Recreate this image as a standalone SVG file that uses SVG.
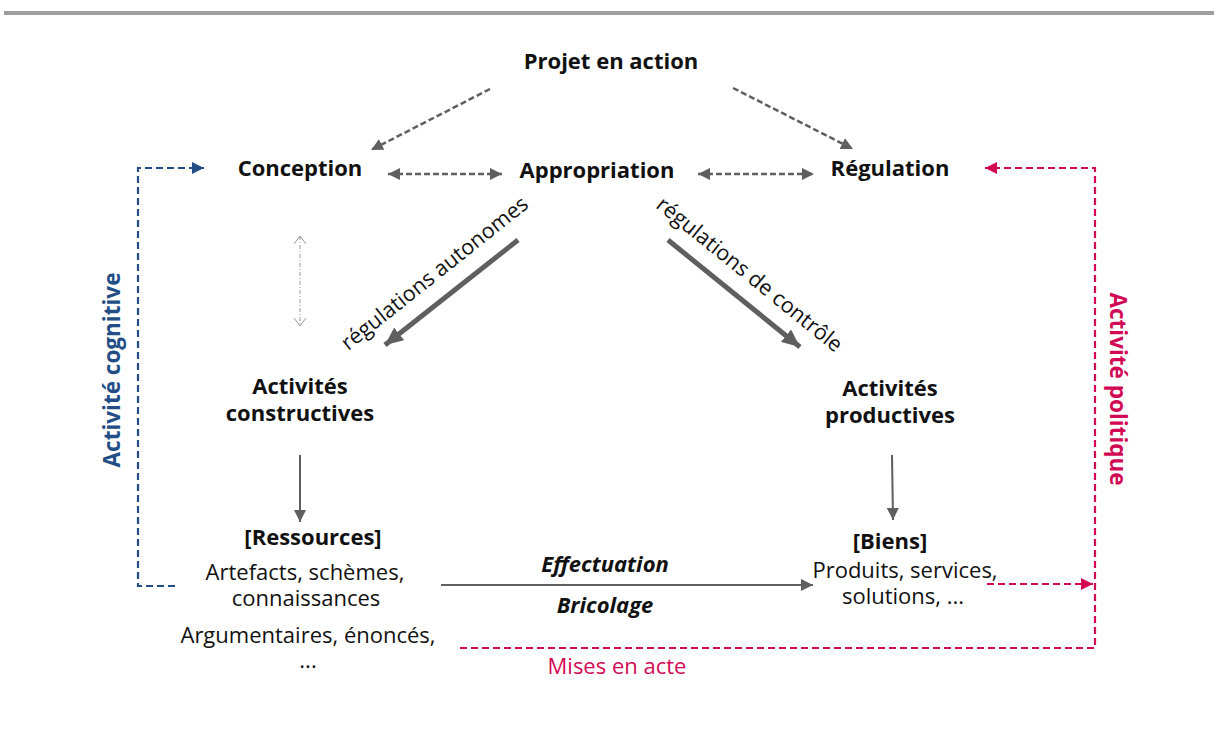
<svg xmlns="http://www.w3.org/2000/svg" width="1214" height="731" viewBox="0 0 1214 731">
<defs>
<style>
.b{font-family:"Open Sans","Liberation Sans",sans-serif;font-weight:bold;font-size:22px;fill:#111;text-anchor:middle}
.r{font-family:"Open Sans","Liberation Sans",sans-serif;font-size:22px;fill:#111;text-anchor:middle}
.bi{font-family:"Open Sans","Liberation Sans",sans-serif;font-weight:bold;font-style:italic;font-size:22px;fill:#111;text-anchor:middle}
.gd{fill:none;stroke:#5f5f5f;stroke-width:2.5;stroke-dasharray:6 3}
.gs{fill:none;stroke:#5f5f5f;stroke-width:2}
.gt{fill:none;stroke:#5f5f5f;stroke-width:5}
.red{fill:none;stroke:#d20a55;stroke-width:2.2;stroke-dasharray:7 4}
.blue{fill:none;stroke:#234e85;stroke-width:2.2;stroke-dasharray:7 4}
</style>
<marker id="ag" markerUnits="userSpaceOnUse" markerWidth="14" markerHeight="12" refX="12" refY="6" orient="auto-start-reverse"><path d="M0,0 L12,6 L0,12 z" fill="#5f5f5f"/></marker>
<marker id="agt" markerUnits="userSpaceOnUse" markerWidth="20" markerHeight="16" refX="18" refY="8" orient="auto"><path d="M0,0 L18,8 L0,16 z" fill="#5f5f5f"/></marker>
<marker id="ar" markerUnits="userSpaceOnUse" markerWidth="14" markerHeight="12" refX="12" refY="6" orient="auto-start-reverse"><path d="M0,0 L12,6 L0,12 z" fill="#d20a55"/></marker>
<marker id="ab" markerUnits="userSpaceOnUse" markerWidth="14" markerHeight="12" refX="12" refY="6" orient="auto"><path d="M0,0 L12,6 L0,12 z" fill="#234e85"/></marker>
<marker id="ao" markerUnits="userSpaceOnUse" markerWidth="12" markerHeight="16" refX="9" refY="7" orient="auto-start-reverse"><path d="M1,1 L9,7 L1,13" fill="none" stroke="#9a9a9a" stroke-width="1"/></marker>
</defs>
<rect x="4" y="11" width="1210" height="4" fill="#9e9e9e"/>
<g id="connectors">
<line class="gd" x1="490" y1="89" x2="371" y2="150" marker-end="url(#ag)"/>
<line class="gd" x1="733" y1="88" x2="853" y2="149" marker-end="url(#ag)"/>
<line class="gd" x1="388" y1="174" x2="502" y2="174" marker-start="url(#ag)" marker-end="url(#ag)"/>
<line class="gd" x1="698" y1="174" x2="814" y2="174" marker-start="url(#ag)" marker-end="url(#ag)"/>
<line x1="300" y1="236" x2="300" y2="326" stroke="#9a9a9a" stroke-width="1" stroke-dasharray="4 2 1 2" marker-start="url(#ao)" marker-end="url(#ao)"/>
<line class="gt" x1="518" y1="240" x2="385" y2="345" marker-end="url(#agt)"/>
<line class="gt" x1="668" y1="240" x2="800" y2="347" marker-end="url(#agt)"/>
<line class="gs" x1="300" y1="455" x2="300" y2="522" marker-end="url(#ag)"/>
<line class="gs" x1="892" y1="455" x2="893" y2="520" marker-end="url(#ag)"/>
<line class="gs" x1="441" y1="585" x2="813" y2="585" marker-end="url(#ag)"/>
<polyline class="blue" points="175,586 138,586 138,168 204,168" marker-end="url(#ab)"/>
<line class="red" x1="987" y1="584" x2="1093" y2="584" marker-end="url(#ar)"/>
<polyline class="red" points="460,648 1095,648 1095,168 985,168" marker-end="url(#ar)"/>
</g>
<g id="labels">
<text class="r" style="font-size:21.5px" transform="translate(439,279) rotate(-38.5)">régulations autonomes</text>
<text class="r" style="font-size:21.5px" transform="translate(745,280) rotate(39)">régulations de contrôle</text>
<text class="bi" x="605" y="572">Effectuation</text>
<text class="bi" x="605" y="613">Bricolage</text>
<text class="r" x="617" y="674" style="fill:#d20a55">Mises en acte</text>
<text class="b" style="fill:#234e85;font-size:22.5px" transform="translate(120,370) rotate(-90)">Activité cognitive</text>
<text class="b" style="fill:#d20a55;font-size:22.5px" transform="translate(1110,389) rotate(90)">Activité politique</text>
</g>
<g id="projet"><text class="b" x="611" y="69">Projet en action</text></g>
<g id="conception"><text class="b" x="300" y="176">Conception</text></g>
<g id="appropriation"><text class="b" x="597" y="178">Appropriation</text></g>
<g id="regulation"><text class="b" x="890" y="176">Régulation</text></g>
<g id="constructives"><text class="b" x="300" y="394">Activités</text><text class="b" x="300" y="421">constructives</text></g>
<g id="productives"><text class="b" x="890" y="396">Activités</text><text class="b" x="890" y="423">productives</text></g>
<g id="ressources">
<text class="b" x="313" y="545">[Ressources]</text>
<text class="r" x="305" y="580">Artefacts, schèmes,</text>
<text class="r" x="306" y="606">connaissances</text>
<text class="r" x="308" y="643">Argumentaires, énoncés,</text>
<text class="r" x="308" y="668">...</text>
</g>
<g id="biens">
<text class="b" x="890" y="549">[Biens]</text>
<text class="r" x="905" y="578">Produits, services,</text>
<text class="r" x="903" y="604">solutions, ...</text>
</g>
</svg>
